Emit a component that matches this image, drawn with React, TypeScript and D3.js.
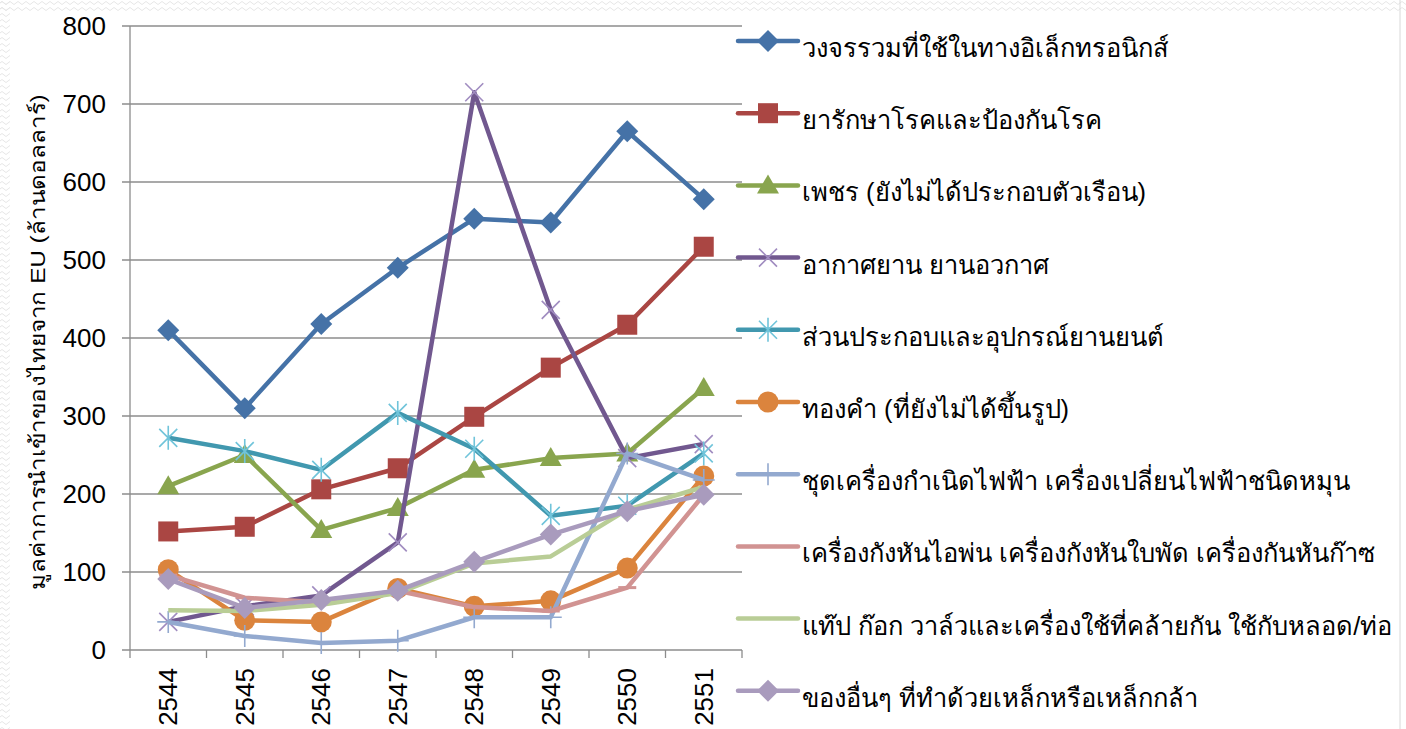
import React from "react";
import * as d3 from "d3";

const years = ["2544", "2545", "2546", "2547", "2548", "2549", "2550", "2551"];
const yTicks = [0, 100, 200, 300, 400, 500, 600, 700, 800];

const seriesNames = [
  "วงจรรวมที่ใช้ในทางอิเล็กทรอนิกส์",
  "ยารักษาโรคและป้องกันโรค",
  "เพชร (ยังไม่ได้ประกอบตัวเรือน)",
  "อากาศยาน ยานอวกาศ",
  "ส่วนประกอบและอุปกรณ์ยานยนต์",
  "ทองคำ (ที่ยังไม่ได้ขึ้นรูป)",
  "ชุดเครื่องกำเนิดไฟฟ้า เครื่องเปลี่ยนไฟฟ้าชนิดหมุน",
  "เครื่องกังหันไอพ่น เครื่องกังหันใบพัด เครื่องกันหันก๊าซ",
  "แท๊ป ก๊อก วาล์วและเครื่องใช้ที่คล้ายกัน ใช้กับหลอด/ท่อ",
  "ของอื่นๆ ที่ทำด้วยเหล็กหรือเหล็กกล้า",
];

const integratedCircuits = [410, 310, 418, 490, 553, 548, 665, 578];
const medicines = [152, 158, 206, 233, 299, 362, 417, 517];
const diamonds = [210, 250, 154, 182, 231, 246, 252, 336];
const aircraft = [36, 56, 70, 138, 715, 436, 246, 264];
const autoParts = [272, 255, 231, 304, 258, 172, 185, 252];
const gold = [103, 38, 36, 79, 56, 63, 105, 223];
const generators = [36, 18, 9, 12, 42, 42, 252, 218];
const turbines = [96, 67, 61, 76, 55, 50, 80, 199];
const taps = [51, 50, 58, 73, 111, 120, 180, 209];
const ironSteel = [91, 54, 64, 76, 113, 148, 178, 199];

const seriesValues = [
  integratedCircuits, medicines, diamonds, aircraft, autoParts,
  gold, generators, turbines, taps, ironSteel,
];

const lineColors = [
  "#4572A7", "#AA4643", "#89A54E", "#71588F", "#4198AF",
  "#DB843D", "#93A9CF", "#D19392", "#B9CD96", "#A99BBD",
];
const markerKinds = [
  "diamond", "square", "triangle", "x", "star",
  "circle", "plus", "dash", "none", "diamond",
];
const markerColors = [
  "#4572A7", "#AA4643", "#89A54E", "#A08CC0", "#70C4DA",
  "#DB843D", "#93A9CF", "#D19392", "#B9CD96", "#A99BBD",
];

const W = 1406;
const H = 729;
const plot = { left: 130, right: 742, top: 26, bottom: 650 };

const x = d3.scaleBand<string>().domain(years).range([plot.left, plot.right]).padding(0);
const y = d3.scaleLinear().domain([0, 800]).range([plot.bottom, plot.top]);

const axisFont = "'Liberation Sans', Arial, sans-serif";
const thaiFont = "Tahoma, 'Liberation Sans', sans-serif";

function Marker({ kind, cx, cy, color }: { kind: string; cx: number; cy: number; color: string }) {
  switch (kind) {
    case "diamond":
      return <path d={`M${cx},${cy - 11}L${cx + 11},${cy}L${cx},${cy + 11}L${cx - 11},${cy}Z`} fill={color} />;
    case "square":
      return <rect x={cx - 10} y={cy - 10} width={20} height={20} fill={color} />;
    case "triangle":
      return <path d={`M${cx},${cy - 11}L${cx + 11},${cy + 8}L${cx - 11},${cy + 8}Z`} fill={color} />;
    case "circle":
      return <circle cx={cx} cy={cy} r={10.5} fill={color} />;
    case "x":
      return (
        <path d={`M${cx - 9},${cy - 9}L${cx + 9},${cy + 9}M${cx - 9},${cy + 9}L${cx + 9},${cy - 9}`}
          stroke={color} strokeWidth={1.6} fill="none" />
      );
    case "star":
      return (
        <path d={`M${cx - 9},${cy - 9}L${cx + 9},${cy + 9}M${cx - 9},${cy + 9}L${cx + 9},${cy - 9}M${cx},${cy - 12}L${cx},${cy + 12}`}
          stroke={color} strokeWidth={1.6} fill="none" />
      );
    case "plus":
      return (
        <path d={`M${cx - 11},${cy}L${cx + 11},${cy}M${cx},${cy - 11}L${cx},${cy + 11}`}
          stroke={color} strokeWidth={1.6} fill="none" />
      );
    case "dash":
      return <path d={`M${cx - 9},${cy}L${cx + 9},${cy}`} stroke={color} strokeWidth={3} fill="none" />;
    default:
      return null;
  }
}

export default function App() {
  const line = d3
    .line<number>()
    .x((_, i) => (x(years[i]) as number) + x.bandwidth() / 2)
    .y((v) => y(v));

  const legendTop = 41;
  const legendStep = 72.2;

  return (
    <svg width={W} height={H} style={{ position: "absolute", left: 0, top: 0, background: "#fff" }}>
      <defs>
        <pattern id="wave" width="8" height="6" patternUnits="userSpaceOnUse">
          <path d="M0,3 Q2,0 4,3 T8,3" stroke="#e6e6e6" strokeWidth="1" fill="none" />
        </pattern>
      </defs>
      <rect x={0} y={0} width={W} height={12} fill="url(#wave)" />
      <rect x={0} y={0} width={10} height={H} fill="url(#wave)" />
      <line x1={1400} x2={1400} y1={0} y2={H} stroke="#d8d8d8" strokeWidth={1} />

      {/* gridlines */}
      {yTicks.map((t) => (
        <line key={t} x1={plot.left - 8} x2={plot.right} y1={y(t)} y2={y(t)} stroke="#8c8c8c" strokeWidth={1.3} />
      ))}
      {/* y axis */}
      <line x1={plot.left} x2={plot.left} y1={plot.top} y2={plot.bottom} stroke="#8c8c8c" strokeWidth={1.3} />
      {/* x ticks */}
      {years.map((yr) => (
        <line key={yr} x1={x(yr) as number} x2={x(yr) as number} y1={plot.bottom} y2={plot.bottom + 8} stroke="#8c8c8c" strokeWidth={1.3} />
      ))}
      <line x1={plot.right} x2={plot.right} y1={plot.bottom} y2={plot.bottom + 8} stroke="#8c8c8c" strokeWidth={1.3} />

      {/* y tick labels */}
      {yTicks.map((t) => (
        <text key={t} x={106} y={y(t)} dy="0.36em" textAnchor="end" fontFamily={axisFont} fontSize={26} fill="#000">
          {t}
        </text>
      ))}
      {/* x tick labels */}
      {years.map((yr) => {
        const cx = (x(yr) as number) + x.bandwidth() / 2;
        return (
          <text key={yr} transform={`translate(${cx + 9},${668}) rotate(-90)`} textAnchor="end"
            fontFamily={axisFont} fontSize={26} fill="#000">
            {yr}
          </text>
        );
      })}

      {/* y title */}
      <text transform={`translate(${45},${342}) rotate(-90)`} textAnchor="middle" fontFamily={thaiFont} fontSize={21}
        textLength={495} lengthAdjust="spacingAndGlyphs" fill="#000">
        มูลค่าการนำเข้าของไทยจาก EU (ล้านดอลลาร์)
      </text>

      {/* series */}
      {seriesValues.map((vals, si) => (
        <g key={si}>
          <path d={line(vals) || ""} fill="none" stroke={lineColors[si]} strokeWidth={4.5} strokeLinejoin="round" />
          {vals.map((v, i) => (
            <Marker key={i} kind={markerKinds[si]} cx={(x(years[i]) as number) + x.bandwidth() / 2} cy={y(v)} color={markerColors[si]} />
          ))}
        </g>
      ))}

      {/* legend */}
      {seriesNames.map((name, si) => {
        const ly = legendTop + si * legendStep;
        return (
          <g key={si}>
            <line x1={738} x2={798} y1={ly} y2={ly} stroke={lineColors[si]} strokeWidth={4.5} strokeLinecap="round" />
            <Marker kind={markerKinds[si]} cx={768} cy={ly} color={markerColors[si]} />
            <text x={802} y={ly + 7} dy="0.35em" fontFamily={thaiFont} fontSize={25.5} fill="#000">
              {name}
            </text>
          </g>
        );
      })}
    </svg>
  );
}
